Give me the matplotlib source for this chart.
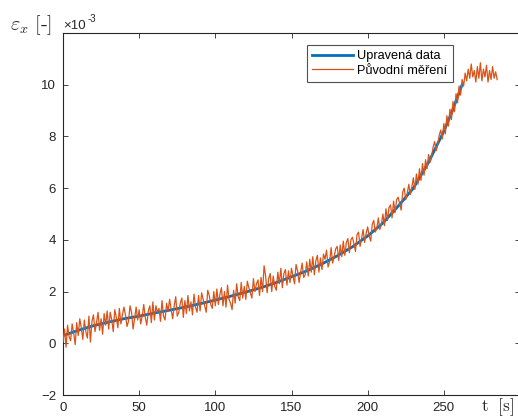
import matplotlib
matplotlib.use("Agg")
import matplotlib.pyplot as plt

plt.rcParams['font.family'] = ['Liberation Sans', 'DejaVu Sans']
plt.rcParams['mathtext.fontset'] = 'cm'

# smooth fitted curve (Upravená data), values in 1e-3
t_fit = [0, 10, 20, 30, 40, 50, 60, 70, 80, 90, 100, 110, 120, 130, 140, 150,
         160, 170, 180, 190, 200, 210, 220, 230, 240, 250, 255, 262]
eps_fit = [0.30, 0.50, 0.68, 0.82, 0.95, 1.05, 1.17, 1.28, 1.40, 1.53, 1.67, 1.82,
           1.98, 2.15, 2.35, 2.57, 2.80, 3.07, 3.38, 3.73, 4.15, 4.65, 5.30, 6.00,
           7.00, 8.20, 8.90, 10.00]

# raw measurement (Původní měření), one sample per second from t = 0
eps_raw = [
    0.05, 0.55, -0.15, 0.70, 0.25, 0.10, 0.75, 0.40, -0.05, 0.80,
    0.30, 0.95, 0.60, 0.15, 0.90, 0.45, 0.20, 1.05, 0.05, 0.85,
    1.10, 0.45, 0.80, 1.20, 0.50, 0.95, 0.35, 1.15, 0.70, 1.25,
    0.55, 1.20, 0.90, 0.45, 1.30, 1.00, 0.60, 1.35, 0.75, 1.10,
    1.40, 1.10, 0.65, 0.85, 1.45, 1.20, 0.55, 0.95, 1.40, 0.90,
    1.30, 0.75, 1.05, 1.50, 1.00, 0.70, 1.25, 1.45, 0.80, 1.60,
    0.90, 1.45, 1.20, 1.35, 0.85, 1.65, 1.05, 0.90, 1.55, 1.25,
    1.70, 1.30, 0.95, 1.45, 1.80, 1.05, 1.20, 1.55, 1.75, 1.00,
    1.65, 1.15, 1.85, 1.25, 1.60, 1.10, 1.90, 1.40, 1.20, 1.85,
    1.25, 1.95, 1.70, 1.45, 1.20, 2.05, 1.85, 1.50, 1.35, 2.00,
    1.45, 2.10, 1.50, 1.90, 2.15, 1.45, 2.00, 1.40, 2.25, 1.70,
    1.55, 1.30, 2.05, 1.55, 2.30, 1.80, 1.65, 2.35, 1.75, 2.20,
    1.70, 2.40, 2.15, 1.95, 1.75, 2.50, 2.00, 2.30, 2.45, 1.85,
    2.55, 2.00, 3.00, 2.60, 1.95, 2.50, 2.70, 2.00, 2.60, 2.20,
    2.05, 2.75, 2.30, 2.90, 2.15, 2.70, 2.85, 2.25, 2.80, 2.35,
    2.90, 2.60, 2.30, 3.05, 2.80, 2.35, 2.75, 3.10, 2.55, 2.65,
    3.15, 2.60, 3.25, 2.75, 3.35, 2.65, 3.20, 3.40, 2.75, 3.30,
    2.85, 3.45, 3.25, 3.60, 2.95, 3.15, 3.70, 3.10, 3.35, 3.65,
    3.75, 3.20, 3.80, 3.35, 3.95, 3.40, 3.90, 4.05, 3.50, 4.00,
    4.10, 3.85, 3.55, 4.20, 4.30, 3.75, 4.05, 4.40, 3.90, 4.25,
    4.50, 4.15, 3.95, 4.60, 4.75, 4.30, 4.45, 4.85, 4.40, 4.60,
    5.00, 4.55, 5.20, 4.75, 5.25, 5.35, 4.85, 5.50, 5.05, 5.55,
    5.65, 5.40, 5.15, 5.85, 6.00, 5.55, 5.80, 6.15, 5.75, 6.05,
    6.40, 5.95, 6.55, 6.15, 6.75, 6.30, 6.95, 6.50, 7.10, 6.75,
    7.30, 7.00, 7.25, 7.60, 7.80, 7.45, 7.70, 8.05, 8.25, 7.90,
    8.50, 8.10, 8.80, 8.40, 9.05, 8.65, 9.35, 8.95, 9.65, 9.30,
    9.95, 9.60, 10.20, 9.95, 10.45, 10.15, 10.60, 10.25, 10.80, 10.30,
    10.55, 10.10, 10.70, 10.25, 10.85, 10.15, 10.60, 10.30, 10.75, 10.10,
    10.55, 10.20, 10.70, 10.25, 10.50, 10.20,
]
t_raw = list(range(len(eps_raw)))

x_ticks = [0, 50, 100, 150, 200, 250]
y_ticks = [-2, 0, 2, 4, 6, 8, 10]

W, H = 518, 417
fig = plt.figure(figsize=(W / 100, H / 100), dpi=100)
ax = fig.add_axes([63 / W, 22 / H, (520 - 63) / W, (395 - 33) / H])

blue = '#0072BD'
orange = '#D95319'
ax.plot(t_fit, eps_fit, color=blue, lw=2.0, label='Upravená data', zorder=2)
ax.plot(t_raw, eps_raw, color=orange, lw=0.9, label='Původní měření', zorder=3)

ax.set_xlim(0, 300)
ax.set_ylim(-2, 12)
ax.set_xticks(x_ticks)
ax.set_yticks(y_ticks)
axcol = '#262626'
ax.tick_params(direction='in', length=3.5, width=0.6, colors=axcol, labelsize=9.5,
               top=True, right=True, labelcolor=axcol, pad=5)
for s in ax.spines.values():
    s.set_color(axcol)
    s.set_linewidth(0.8)

leg = ax.legend(loc='upper left', bbox_to_anchor=((307 - 63) / 457, 1 - (45 - 33) / 362),
                fontsize=9.2, frameon=True, fancybox=False, handlelength=3.2,
                borderpad=0.4, labelspacing=0.22, handletextpad=0.35, borderaxespad=0)
leg.get_frame().set_edgecolor(axcol)
leg.get_frame().set_linewidth(0.8)

fig.text(10 / W, 1 - 30 / H, r'$\varepsilon_x\ [\text{-}]$', fontsize=14.5, color=axcol,
         ha='left', va='baseline')
fig.text(63 / W, 1 - 29 / H, '×10', fontsize=9.5, color=axcol, ha='left', va='baseline')
fig.text(88 / W, 1 - 22 / H, '-3', fontsize=7, color=axcol, ha='left', va='baseline')
fig.text(514 / W, 1 - 411 / H, r'$\mathrm{t\ \ [s]}$', fontsize=12.5, color=axcol,
         ha='right', va='baseline')

fig.savefig('out.png', dpi=100)
